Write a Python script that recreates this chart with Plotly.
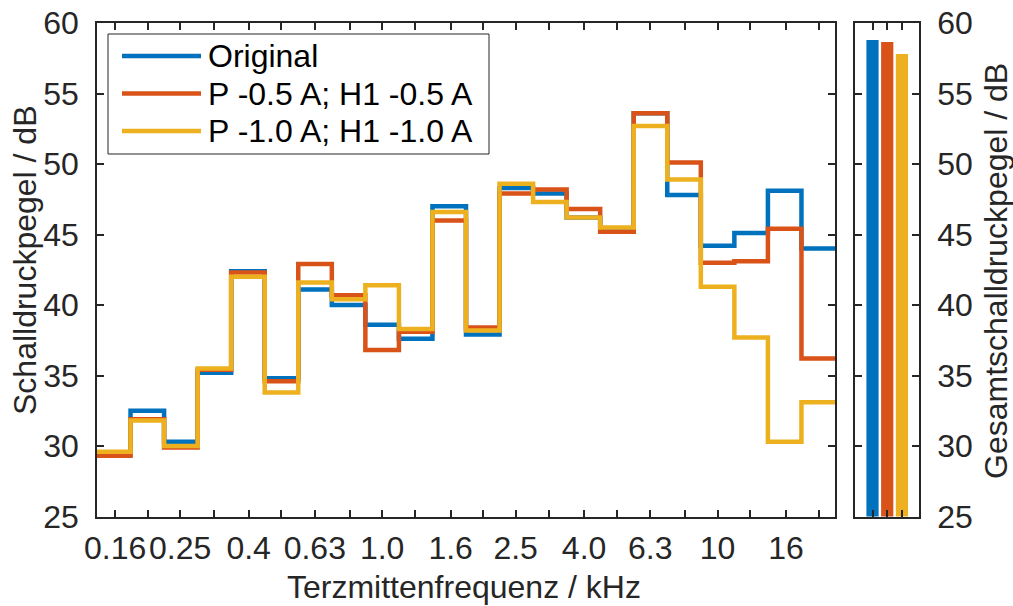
import numpy as np
import plotly.graph_objects as go

# Third-octave band nominal centre frequencies (kHz)
freq_khz = [0.16, 0.2, 0.25, 0.315, 0.4, 0.5, 0.63, 0.8, 1.0, 1.25, 1.6, 2.0,
            2.5, 3.15, 4.0, 5.0, 6.3, 8.0, 10, 12.5, 16, 20]
tick_labels = ["0.16", "", "0.25", "", "0.4", "", "0.63", "", "1.0", "", "1.6", "",
               "2.5", "", "4.0", "", "6.3", "", "10", "", "16", ""]

level_original = [29.5, 32.5, 30.3, 35.2, 42.4, 34.8, 41.1, 40.0, 38.6, 37.6, 47.0, 37.9,
                  48.3, 47.9, 46.2, 45.3, 53.6, 47.8, 44.2, 45.1, 48.1, 44.0]
level_p05 = [29.3, 31.9, 29.9, 35.4, 42.3, 34.6, 42.9, 40.7, 36.8, 38.1, 46.0, 38.4,
             47.9, 48.2, 46.8, 45.2, 53.6, 50.1, 43.0, 43.1, 45.4, 36.2]
level_p10 = [29.6, 31.8, 30.0, 35.5, 42.0, 33.8, 41.6, 40.4, 41.4, 38.3, 46.6, 38.2,
             48.6, 47.3, 46.2, 45.5, 52.7, 48.9, 41.3, 37.7, 30.3, 33.1]

total_levels = [58.8, 58.65, 57.8]

series_names = ["Original", "P -0.5 A; H1 -0.5 A", "P -1.0 A; H1 -1.0 A"]
colors = ["#0072BD", "#D95319", "#EDB120"]

FONT = "Liberation Sans, Arial, sans-serif"
AX = "#262626"
W, H = 1013, 606
FS = 32

f = np.array(freq_khz, dtype=float)
band_exp = np.round(10 * np.log10(f))
edges = 10 ** (np.append(band_exp - 0.5, band_exp[-1] + 0.5) / 10)

fig = go.Figure()
for name, vals, col in zip(series_names, [level_original, level_p05, level_p10], colors):
    fig.add_trace(go.Scatter(
        x=edges, y=list(vals) + [vals[-1]], mode="lines", name=name,
        line=dict(shape="hv", color=col, width=4.5), showlegend=False,
        xaxis="x", yaxis="y"))

fig.add_trace(go.Bar(
    x=[1, 2, 3], y=total_levels, marker=dict(color=colors, line=dict(width=0)),
    width=0.83, showlegend=False, xaxis="x2", yaxis="y2"))

axis_common = dict(showline=True, linecolor=AX, linewidth=1.5, ticks="inside",
                   ticklen=7, tickwidth=1.5, tickcolor=AX, mirror="ticks",
                   showgrid=False, zeroline=False, automargin=False,
                   tickfont=dict(family=FONT, size=FS, color=AX))

y_dom = [(H - 516.5) / H, (H - 23) / H]

def px(x):
    return x / W

def py(y):
    return 1 - y / H

# Legend drawn as a framed box with line samples and labels
leg_left, leg_top, leg_right, leg_bottom = 108, 34, 489, 154
leg_rows = [56, 93.5, 131]
shapes = [dict(type="rect", xref="paper", yref="paper",
               x0=px(leg_left), x1=px(leg_right), y0=py(leg_bottom), y1=py(leg_top),
               line=dict(color=AX, width=1), fillcolor="white", layer="above")]
annotations = []
for name, col, ry in zip(series_names, colors, leg_rows):
    shapes.append(dict(type="line", xref="paper", yref="paper",
                       x0=px(122), x1=px(201), y0=py(ry), y1=py(ry),
                       line=dict(color=col, width=4.5), layer="above"))
    annotations.append(dict(text=name, xref="paper", yref="paper",
                            x=px(206), y=py(ry), xanchor="left", yanchor="middle",
                            showarrow=False,
                            font=dict(family=FONT, size=FS, color="black")))

annotations += [
    dict(text="Terzmittenfrequenz / kHz", xref="paper", yref="paper",
         x=px(464), y=py(587), xanchor="center", yanchor="middle",
         showarrow=False, font=dict(family=FONT, size=FS, color=AX)),
    dict(text="Schalldruckpegel / dB", xref="paper", yref="paper",
         x=px(25), y=py(260), xanchor="center", yanchor="middle", textangle=-90,
         showarrow=False, font=dict(family=FONT, size=FS, color=AX)),
    dict(text="Gesamtschalldruckpegel / dB", xref="paper", yref="paper",
         x=px(996), y=py(271), xanchor="center", yanchor="middle", textangle=-90,
         showarrow=False, font=dict(family=FONT, size=FS, color=AX)),
]

fig.update_layout(
    width=W, height=H, margin=dict(l=0, r=0, t=0, b=0, autoexpand=False),
    paper_bgcolor="white", plot_bgcolor="white",
    xaxis=dict(type="log", range=[np.log10(edges[0]), np.log10(edges[-1])],
               domain=[px(97), px(835)], tickmode="array", tickvals=f,
               ticktext=tick_labels, anchor="y", ticklabelstandoff=2, **axis_common),
    yaxis=dict(range=[25, 60], dtick=5, domain=y_dom, anchor="x",
               ticklabelstandoff=10, **axis_common),
    xaxis2=dict(range=[-0.19, 4.16], domain=[px(855), px(919)], tickmode="array",
                tickvals=[1, 2, 3], showticklabels=False, anchor="y2", **axis_common),
    yaxis2=dict(range=[25, 60], dtick=5, domain=y_dom, anchor="x2", side="right",
                ticklabelstandoff=10, **axis_common),
    showlegend=False,
    barmode="overlay",
    shapes=shapes,
    annotations=annotations,
)

fig.write_html("out.html")
